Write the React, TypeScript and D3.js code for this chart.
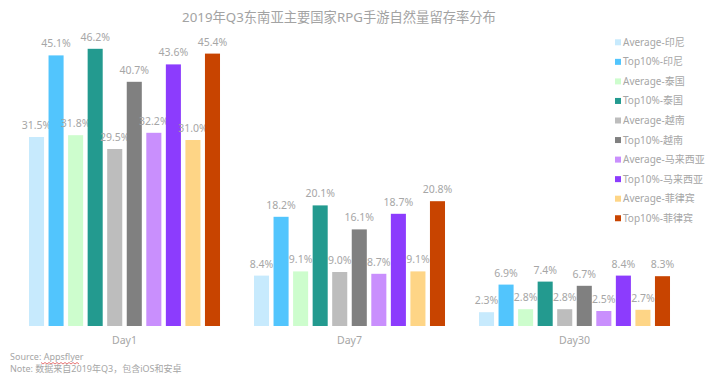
import React from "react";
import * as d3 from "d3";

const categories = ["Day1", "Day7", "Day30"];
const seriesNames = [
  "Average-印尼", "Top10%-印尼", "Average-泰国", "Top10%-泰国", "Average-越南",
  "Top10%-越南", "Average-马来西亚", "Top10%-马来西亚", "Average-菲律宾", "Top10%-菲律宾",
];
const avgIndonesia = [31.5, 8.4, 2.3];
const topIndonesia = [45.1, 18.2, 6.9];
const avgThailand = [31.8, 9.1, 2.8];
const topThailand = [46.2, 20.1, 7.4];
const avgVietnam = [29.5, 9.0, 2.8];
const topVietnam = [40.7, 16.1, 6.7];
const avgMalaysia = [32.2, 8.7, 2.5];
const topMalaysia = [43.6, 18.7, 8.4];
const avgPhilippines = [31.0, 9.1, 2.7];
const topPhilippines = [45.4, 20.8, 8.3];
const seriesValues = [
  avgIndonesia, topIndonesia, avgThailand, topThailand, avgVietnam,
  topVietnam, avgMalaysia, topMalaysia, avgPhilippines, topPhilippines,
];
const colors = [
  "#c7eafd", "#52c5fd", "#cdfdcd", "#239a8f", "#bdbdbd",
  "#808080", "#c98ffd", "#8c3cfd", "#fed586", "#c84400",
];

const W = 717, H = 376;
const FONT = "'Segoe UI', 'Noto Sans', 'Noto Sans CJK SC', sans-serif";
const GRAY = "#a6a6a6";

export default function App() {
  const x0 = d3.scaleBand<string>().domain(categories).range([12, 687]).paddingInner(0.151).paddingOuter(0.0755);
  const x1 = d3.scaleBand<string>().domain(seriesNames).range([0, x0.bandwidth()]).paddingInner(0.23).paddingOuter(0);
  const y = d3.scaleLinear().domain([0, 50]).range([326, 26]);

  return (
    <svg width={W} height={H} style={{ position: "absolute", left: 0, top: 0, background: "#fff" }} fontFamily={FONT}>
      <text x={339} y={22} textAnchor="middle" fontSize={13.3} fill="#a3a3a3">2019年Q3东南亚主要国家RPG手游自然量留存率分布</text>
      {categories.map((c, ci) => (
        <g key={c} transform={`translate(${x0(c)},0)`}>
          {seriesNames.map((s, si) => {
            const v = seriesValues[si][ci];
            const bx = x1(s)!;
            return (
              <g key={s}>
                <rect x={bx} y={y(v)} width={x1.bandwidth()} height={y(0) - y(v)} fill={colors[si]} />
                <text x={bx + x1.bandwidth() / 2} y={y(v) - 8} textAnchor="middle" fontSize={10.5} fill={GRAY}>{v.toFixed(1)}%</text>
              </g>
            );
          })}
          <text x={x0.bandwidth() / 2} y={344} textAnchor="middle" fontSize={10.5} fill={GRAY}>{c}</text>
        </g>
      ))}
      {seriesNames.map((s, si) => (
        <g key={s} transform={`translate(615,${42.3 + si * 19.55})`}>
          <rect x={0} y={-3} width={6} height={6} fill={colors[si]} />
          <text x={8} y={3.5} fontSize={10} fill={GRAY}>{s}</text>
        </g>
      ))}
      <text x={10} y={360} fontSize={9} fill={GRAY}>Source: Appsflyer</text>
      <path d={d3.range(0, 40, 2).map((d, i) => `${i === 0 ? "M" : "L"}${41 + d},${362.5 + (i % 2 === 0 ? 0 : 1.5)}`).join("")} fill="none" stroke="#e05050" strokeWidth={0.8} />
      <text x={10} y={372} fontSize={9} fill={GRAY}>Note: 数据来自2019年Q3，包含iOS和安卓</text>
    </svg>
  );
}
